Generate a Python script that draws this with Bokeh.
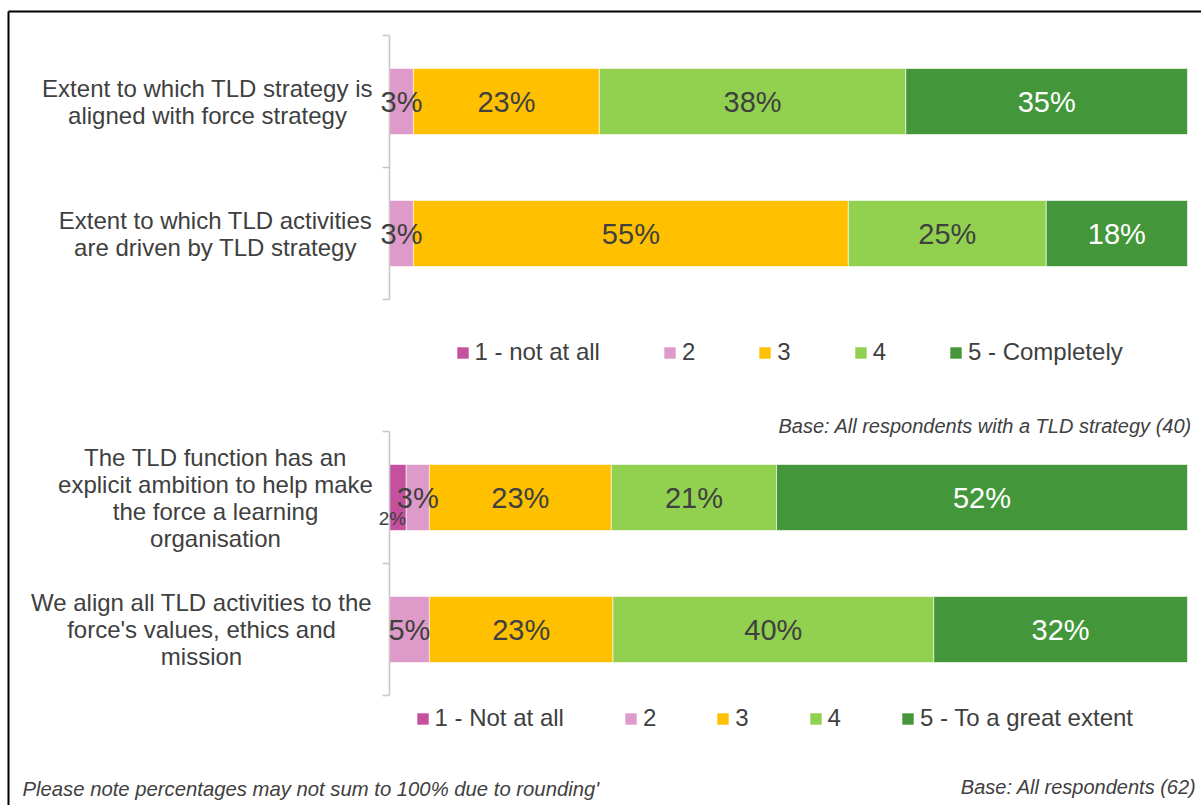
from bokeh.plotting import figure
from bokeh.models import Range1d, ColumnDataSource, Legend, LegendItem
from bokeh.embed import file_html
from bokeh.resources import INLINE
from bokeh.core.properties import value

# ---------------- data ----------------
categories_top = [
    "Extent to which TLD strategy is\naligned with force strategy",
    "Extent to which TLD activities\nare driven by TLD strategy",
]
categories_bottom = [
    "The TLD function has an\nexplicit ambition to help make\nthe force a learning\norganisation",
    "We align all TLD activities to the\nforce's values, ethics and\nmission",
]
series_top = ["1 - not at all", "2", "3", "4", "5 - Completely"]
series_bottom = ["1 - Not at all", "2", "3", "4", "5 - To a great extent"]

# percentage of respondents per row (top two rows, then bottom two rows)
s1 = [0.0, 0.0, 2.1, 0.0]
s2 = [3.0, 3.0, 2.9, 5.0]
s3 = [23.3, 54.5, 22.8, 23.0]
s4 = [38.4, 24.8, 20.7, 40.2]
s5 = [35.3, 17.7, 51.5, 31.8]

# data labels as printed on the chart
l1 = ["", "", "2%", ""]
l2 = ["3%", "3%", "3%", "5%"]
l3 = ["23%", "55%", "23%", "23%"]
l4 = ["38%", "25%", "21%", "40%"]
l5 = ["35%", "18%", "52%", "32%"]

note_top = "Base: All respondents with  a TLD strategy (40)"
note_bottom = "Base: All respondents (62)"
footnote = "Please note percentages may not sum to 100% due to rounding'"

colors = ["#C5509E", "#DE9AC8", "#FFC000", "#92D050", "#43973A"]
label_colors = ["#404040", "#404040", "#404040", "#404040", "#FFFFFF"]

# ---------------- layout constants ----------------
W, H = 1201, 805
PX0, PXW = 389, 798     # screen x of 0% and px per 100%
TOP, SLOT = 35, 132     # screen y of first category slot and slot height
FONT = "Liberation Sans"
TXT = "#404040"


def sx(px):
    return (px - PX0) / PXW * 100.0


def sy(py):
    return (py - TOP) / SLOT


# category slot centres: two rows on top, a gap slot, two rows below
ys = [i + 0.5 for i in range(len(categories_top))] + \
     [len(categories_top) + 1 + i + 0.5 for i in range(len(categories_bottom))]
categories = categories_top + categories_bottom

p = figure(width=W, height=H, x_range=Range1d(sx(0), sx(W)),
           y_range=Range1d(sy(H), sy(0)), output_backend="svg",
           toolbar_location=None, min_border=0,
           x_axis_location=None, y_axis_location=None)
p.grid.visible = False
p.outline_line_color = None
p.background_fill_color = "white"
p.border_fill_color = "white"

src = ColumnDataSource(dict(y=ys, s1=s1, s2=s2, s3=s3, s4=s4, s5=s5))
names = ["s1", "s2", "s3", "s4", "s5"]
rends = p.hbar_stack(names, y="y", height=0.5, color=colors,
                     line_color="white", line_width=0.6, source=src)

# category axes (one per panel) with ticks between categories
AX = "#C8C8C8"
tick = sx(PX0 - 7)
panels = [(0, len(categories_top)),
          (len(categories_top) + 1, len(categories_top) + 1 + len(categories_bottom))]
for a, b in panels:
    p.segment(x0=[0], y0=[a], x1=[0], y1=[b], line_color=AX, line_width=1.6)
    bounds = list(range(a, b + 1))
    p.segment(x0=[tick] * len(bounds), y0=bounds, x1=[0] * len(bounds), y1=bounds,
              line_color=AX, line_width=1.6)

# category labels (centred lines, block right-aligned near the axis)
label_cx = [sx(207), sx(215), sx(215), sx(201)]
p.text(x=label_cx, y=ys, text=categories, text_font=value(FONT),
       text_font_size="24px", text_color=TXT, text_align="center",
       text_baseline="middle", text_line_height=1.0)

# data labels
series_vals = [s1, s2, s3, s4, s5]
series_labs = [l1, l2, l3, l4, l5]
lx, ly, lt, lc = [], [], [], []
sxs, sys_, sts = [], [], []
for r in range(len(ys)):
    cum = 0.0
    for k in range(5):
        v = series_vals[k][r]
        t = series_labs[k][r]
        if t:
            if v < 2.5:
                sxs.append(cum + v)
                sys_.append(ys[r] + 0.16)
                sts.append(t)
            else:
                lx.append(cum + v / 2)
                ly.append(ys[r])
                lt.append(t)
                lc.append(label_colors[k])
        cum += v
p.text(x=lx, y=ly, text=lt, text_color=lc, text_font=value(FONT),
       text_font_size="29px", text_align="center", text_baseline="middle")
p.text(x=sxs, y=sys_, text=sts, text_color=TXT, text_font=value(FONT),
       text_font_size="19px", text_align="right", text_baseline="middle")

# notes
p.text(x=[sx(1197)], y=[sy(425)], text=[note_top], text_color=TXT,
       text_font=value(FONT), text_font_size="20px", text_font_style="italic",
       text_align="right", text_baseline="middle")
p.text(x=[sx(1196)], y=[sy(786)], text=[note_bottom], text_color=TXT,
       text_font=value(FONT), text_font_size="20px", text_font_style="italic",
       text_align="right", text_baseline="middle")
p.text(x=[sx(22)], y=[sy(788)], text=[footnote], text_color=TXT,
       text_font=value(FONT), text_font_size="20.3px", text_font_style="italic",
       text_align="left", text_baseline="middle")

# legends
def make_legend(labels, loc, spacing):
    return Legend(items=[LegendItem(label=lab, renderers=[rr]) for lab, rr in zip(labels, rends)],
                  orientation="horizontal", location=loc, spacing=spacing,
                  glyph_width=15, glyph_height=15, label_standoff=5, padding=0, margin=0,
                  border_line_color=None, background_fill_alpha=0,
                  label_text_font=FONT, label_text_font_size="24px",
                  label_text_color=TXT, label_height=15, label_width=0)

p.add_layout(make_legend(series_top, (454.5, H - 352 - 14), 62))
p.add_layout(make_legend(series_bottom, (414.5, H - 718 - 14), 59))

# outer frame: only its top and left edges fall inside the picture
p.segment(x0=[sx(8), sx(8)], y0=[sy(11), sy(11)], x1=[sx(W + 10), sx(8)], y1=[sy(11), sy(H + 10)],
          line_color="black", line_width=2)

open("out.html", "w").write(file_html(p, INLINE))
